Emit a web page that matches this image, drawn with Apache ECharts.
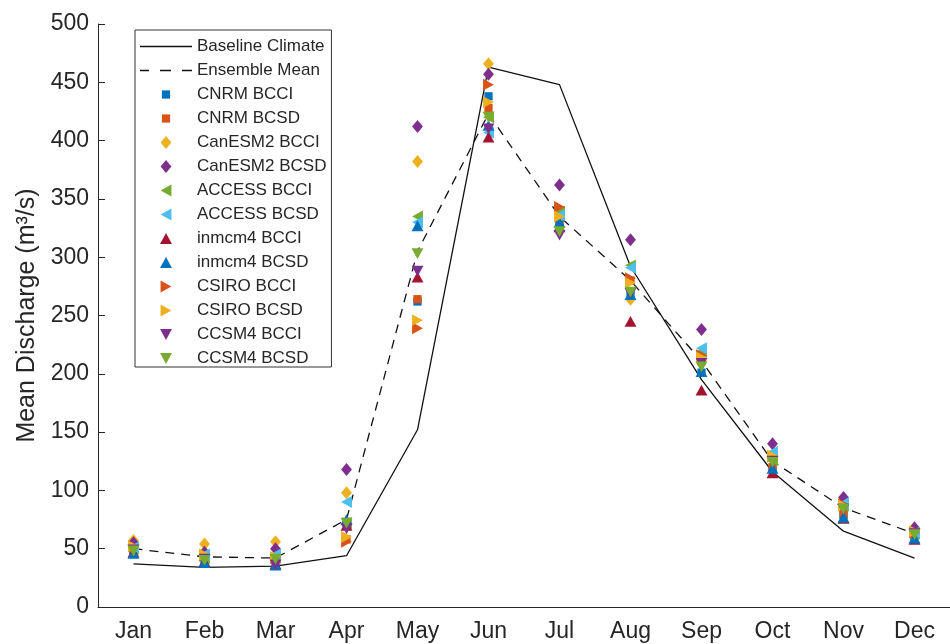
<!DOCTYPE html>
<html>
<head>
<meta charset="utf-8">
<script src="https://cdn.jsdelivr.net/npm/echarts@6/dist/echarts.min.js"></script>
<style>html,body{margin:0;padding:0;background:#fff;}#chart{width:950px;height:644px;}</style>
</head>
<body>
<div id="chart"></div>
<script>
var months = ['Jan','Feb','Mar','Apr','May','Jun','Jul','Aug','Sep','Oct','Nov','Dec'];
var baseline = [37, 34, 35, 44, 152, 463, 448, 292, 195, 116, 65, 42];
var ensembleMean = [50, 43, 42, 75, 305, 423, 335, 280, 211, 125, 85, 63];

var cnrmBCCI    = [46, 38, 37, 73, 262, 438, 330, 269, 201, 118, 79, 59];
var cnrmBCSD    = [49, 44, 40, 58, 264, 428, 327, 280, 211, 120, 80, 62];
var canesmBCCI  = [57, 54, 56, 98, 382, 466, 334, 264, 211, 130, 90, 66];
var canesmBCSD  = [55, 47, 50, 118, 412, 457, 362, 315, 238, 140, 94, 68];
var accessBCCI  = [50, 42, 42, 72, 335, 420, 339, 293, 219, 126, 87, 63];
var accessBCSD  = [51, 45, 45, 90, 330, 407, 336, 291, 222, 133, 89, 64];
var inmcmBCCI   = [47, 39, 37, 70, 283, 403, 326, 245, 186, 115, 76, 58];
var inmcmBCSD   = [46, 38, 36, 75, 327, 413, 330, 268, 202, 119, 77, 59];
var csiroBCCI   = [52, 44, 42, 56, 239, 448, 343, 282, 216, 129, 88, 64];
var csiroBCSD   = [52, 45, 43, 60, 246, 433, 335, 278, 214, 130, 87, 65];
var ccsmBCCI    = [49, 41, 36, 67, 288, 410, 319, 269, 209, 125, 84, 63];
var ccsmBCSD    = [48, 40, 41, 72, 303, 420, 322, 270, 206, 124, 84, 62];

var yTicks = [0, 50, 100, 150, 200, 250, 300, 350, 400, 450, 500];

var C = {blue:'#0072BD', orange:'#D95319', yellow:'#EDB120', purple:'#7E2F8E', green:'#77AC30', lblue:'#4DBEEE', red:'#A2142F'};
// all marker shapes share a 12x12 box (corner points keep the box size)
var BOX = 'M0,0 L0,0 M12,12 L12,12 ';
var SYM = {
  square:  'path://' + BOX + 'M2.2,2.2 L9.8,2.2 L9.8,9.8 L2.2,9.8 Z',
  diamond: 'path://' + BOX + 'M6,0 L11,6 L6,12 L1,6 Z',
  up:      'path://' + BOX + 'M6,1 L11.5,11 L0.5,11 Z',
  down:    'path://' + BOX + 'M0.5,1 L11.5,1 L6,11 Z',
  left:    'path://' + BOX + 'M11,0.5 L11,11.5 L1,6 Z',
  right:   'path://' + BOX + 'M1,0.5 L11,6 L1,11.5 Z'
};
var LINE_ICON = {
  solid:  'path://M0,0 L52,0 L52,1.4 L0,1.4 Z',
  dashed: 'path://M0,0 L9,0 L9,1.4 L0,1.4 Z M20,0 L31,0 L31,1.4 L20,1.4 Z M42,0 L52,0 L52,1.4 L42,1.4 Z'
};
var models = [
  ['CNRM BCCI', cnrmBCCI, C.blue, 'square'],
  ['CNRM BCSD', cnrmBCSD, C.orange, 'square'],
  ['CanESM2 BCCI', canesmBCCI, C.yellow, 'diamond'],
  ['CanESM2 BCSD', canesmBCSD, C.purple, 'diamond'],
  ['ACCESS BCCI', accessBCCI, C.green, 'left'],
  ['ACCESS BCSD', accessBCSD, C.lblue, 'left'],
  ['inmcm4 BCCI', inmcmBCCI, C.red, 'up'],
  ['inmcm4 BCSD', inmcmBCSD, C.blue, 'up'],
  ['CSIRO BCCI', csiroBCCI, C.orange, 'right'],
  ['CSIRO BCSD', csiroBCSD, C.yellow, 'right'],
  ['CCSM4 BCCI', ccsmBCCI, C.purple, 'down'],
  ['CCSM4 BCSD', ccsmBCSD, C.green, 'down']
];

var FONT = '"Liberation Sans", Arial, Helvetica, sans-serif';
var TXT = '#262626';

var series = [
  {name:'Baseline Climate', type:'line', data: baseline, symbol:'none', z:3,
   lineStyle:{color:'#111', width:1.3, type:'solid'}, itemStyle:{color:'#111'}},
  {name:'Ensemble Mean', type:'line', data: ensembleMean, symbol:'none', z:3,
   lineStyle:{color:'#111', width:1.3, type:[9,7]}, itemStyle:{color:'#111'}}
];
var legendData = [
  {name:'Baseline Climate', icon: LINE_ICON.solid},
  {name:'Ensemble Mean', icon: LINE_ICON.dashed}
];
models.forEach(function(m){
  series.push({name:m[0], type:'scatter', data:m[1], symbol:SYM[m[3]], symbolSize:13, z:4,
    itemStyle:{color:m[2], opacity:1}});
  legendData.push({name:m[0], icon:SYM[m[3]]});
});

var chart = echarts.init(document.getElementById('chart'), null, {renderer:'canvas'});
chart.setOption({
  animation:false,
  backgroundColor:'#fff',
  textStyle:{fontFamily:FONT},
  grid:{left:98, top:24, width:853, height:583, containLabel:false},
  legend:{
    orient:'vertical', left:135, top:30,
    padding:[8, 5, 0, 5],
    itemWidth:52, itemHeight:13, itemGap:7,
    backgroundColor:'#fff', borderColor:'#333', borderWidth:1,
    textStyle:{fontSize:17, lineHeight:17, color:TXT, fontFamily:FONT},
    data: legendData
  },
  xAxis:{
    type:'category', data:months, boundaryGap:true,
    axisLine:{lineStyle:{color:TXT, width:1}},
    axisTick:{inside:true, alignWithLabel:true, length:7, lineStyle:{color:TXT}},
    axisLabel:{fontSize:23, color:TXT, margin:13, fontFamily:FONT},
    splitLine:{show:false}
  },
  yAxis:{
    type:'value', min:0, max:500, interval:50,
    name:'Mean Discharge (m³/s)', nameLocation:'middle', nameGap:56,
    nameTextStyle:{fontSize:25, color:TXT, fontFamily:FONT},
    axisLine:{show:true, lineStyle:{color:TXT, width:1}},
    axisTick:{show:true, inside:true, length:7, lineStyle:{color:TXT}},
    axisLabel:{fontSize:23, color:TXT, margin:9, fontFamily:FONT,
      formatter:function(v){return yTicks.indexOf(v) >= 0 ? String(v) : '';}},
    splitLine:{show:false}
  },
  series: series
});
</script>
</body>
</html>
